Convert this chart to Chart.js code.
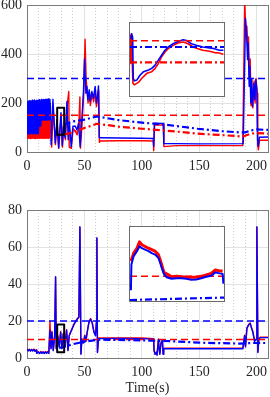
<!DOCTYPE html>
<html>
<head>
<meta charset="utf-8">
<script src="https://cdn.jsdelivr.net/npm/chart.js@4.4.0/dist/chart.umd.min.js"></script>
<style>
  html, body { margin: 0; padding: 0; background: #fff; }
  #wrap { position: relative; width: 270px; height: 397px; overflow: hidden; }
  .box { position: absolute; }
  .inset { position: absolute; background: #fff; border: 1px solid #6b6b6b; box-sizing: border-box; }
</style>
</head>
<body>
<div id="wrap">
  <div class="box" style="left:0;top:0;width:270px;height:175px"><canvas id="topChart"></canvas></div>
  <div class="box" style="left:0;top:180px;width:270px;height:217px"><canvas id="bottomChart"></canvas></div>
  <div class="inset" style="left:129px;top:22px;width:96px;height:75px"><canvas id="topInset"></canvas></div>
  <div class="inset" style="left:129px;top:226px;width:96px;height:76px"><canvas id="bottomInset"></canvas></div>
</div>
<script>
// ---- top plot data ----
const redDenseT = [0,0.5,1,1.5,2,2.5,3,3.5,4,4.5,5,5.5,6,6.5,7,7.5,8,8.5,9,9.5,10,10.5,11,11.5,12,12.5,13,13.5,14,14.5,15,15.5,16,16.5,17,17.5,18,18.5,19,19.5,20];
const redDenseP = [58,68,57,69,58,68,56,70,57,68,58,69,57,68,56,70,58,69,57,68,58,70,57,100,58,98,57,124,58,125,57,123,58,126,57,124,58,125,57,126,60];

const blueTopT = [0,0.5,1,1.5,2,2.5,3,3.5,4,4.5,5,5.5,6,6.5,7,7.5,8,8.5,9,9.5,10,10.5,11,11.5,12,12.5,13,13.5,14,14.5,15,15.5,16,16.5,17,17.5,18,18.5,19,19.5,
  20,20.3,21.1,22.6,24.6,26.1,27.5,29.6,30.7,31.8,33.3,34.8,35.9,37.0,38.5,40.0,42.0,43.5,44.9,46.3,47.8,49.2,50.1,51.3,52.2,53.0,54.2,55.0,56.5,57.9,59.4,60.3,61.4,62.3,62.9,
  64,80,100,110,110.4,111,118.8,119.2,130,150,188.4,190.4,191.3,192.2,192.7,193.6,194.2,195.0,195.6,196.5,197.7,198.5,199.4,200.3,200.9,201.4,202.5,210];
const blueTopP = [70,205,72,208,70,210,73,207,71,211,70,209,72,212,71,208,70,211,73,210,71,213,70,209,72,214,71,212,70,215,72,213,71,216,70,214,72,217,71,215,
  74,200,30,215,37,132,17,160,27,104,58,206,50,118,22,104,106,90,118,22,132,247,380,240,268,213,254,206,247,220,268,200,227,270,60,
  58,57,56,55,23,118,117,34,34,33,34,545,487,377,446,268,349,200,295,186,281,213,295,254,50,23,60,61];

const redTopT = [20,20.5,21.5,22.8,24.8,26.3,27.7,29.8,30.9,32.0,33.5,35.0,36.4,36.8,38.6,40.2,42.2,43.7,45.1,46.1,46.6,48.0,49.4,50.6,51.5,52.4,53.2,54.4,55.2,56.7,58.1,59.6,60.5,61.6,62.5,63.1,
  64,80,100,110,110.4,111.2,118.8,119.3,130,150,188,189.7,190.8,191.6,192.4,193,193.8,194.5,195.2,195.9,196.8,197.9,198.8,199.6,200.6,201.1,201.6,202.7,210];
const redTopP = [60,130,20,180,30,120,15,150,20,95,50,190,247,20,15,95,85,70,105,225,15,120,240,460,300,250,200,245,190,235,205,255,185,215,250,40,
  45,46,46,45,5,110,110,22,26,26,26,620,470,513,420,470,300,380,190,300,180,290,200,300,240,30,9,48,48];

const limitT = [0, 210];
const redLimitTop = [150, 150];
const blueLimitTop = [300, 300];

const blueAvgTopT = [32,40,45,50,55,61,70,80,100,121.7,148.6,170,185.5,190,195,200,210];
const blueAvgTopP = [112,125,128,132,138,145,138,130,120,111,95,85,80,80,88,92,90];
const redAvgTopT = [33,40,50,61,70,80,100,121.7,148.6,170,185.5,190,195,200,210];
const redAvgTopP = [72,80,98,115,110,103,95,87,75,69,64,66,75,77,75];

const zoomBoxT = [26.3, 32.4, 32.4, 26.3, 26.3];
const zoomBoxTopP = [70.6, 70.6, 181, 181, 70.6];

// top inset (zoom of the black box)
const insetBlueTopT = [26.36,26.41,26.47,26.51,26.58,26.75,26.96,27.18,27.50,27.71,27.93,28.14,28.35,28.57,28.78,29.10,29.42,29.75,29.96,30.28,30.60,31.03,31.46,31.78,32.10,32.36];
const insetBlueTopP = [153,160.5,155.5,93,89,90.5,98,103,105.5,108,113,120.5,128,135.5,140.5,145.5,149,151.5,150.5,145.5,143,140.5,139,138,135.5,135.5];
const insetRedTopT = [26.32,26.34,26.39,26.49,26.58,26.86,27.07,27.39,27.71,27.93,28.14,28.35,28.57,28.78,29.10,29.42,29.75,30.07,30.39,30.71,31.03,31.46,31.78,32.10,32.36];
const insetRedTopP = [115.5,158,160.5,85.5,83,87,93,100.5,103,108,115.5,125.5,133,138,143,146.5,148,145.5,140.5,138,135.5,134,132,131.5,129];
const insetT = [26.3, 32.4];
const insetRedLimitTop = [150, 150];
const insetBlueAvgTop = [140.5, 140.5];
const insetRedAvgTop = [117, 117];

// ---- bottom plot data ----
const botT = [0,1,2,3,4,5,6,7,8,8.5,10,11,12,13,14,15,16,17,18,19,20,20.9,21.7,22.9,24.1,24.9,25.5,26.7,28.1,29.3,30.4,31.6,33.0,34.5,35.7,36.8,38.8,40.9,43.2,45.2,46.1,47.0,47.8,49.0,50.4,51.3,52.5,53.9,55.4,56.8,58.3,59.7,60.6,60.9,61.4,62.3,
  80,100,110.4,110.7,111.6,112.8,113.3,114.5,115.1,115.7,116.8,118.0,118.6,119.1,130,160,188.1,189.6,190.4,191.6,193.3,194.5,195.7,196.8,198.3,199.7,200.3,201.2,202.0,203.2,210];
const blueBotP = [4.8,3.8,4.6,3.7,4.5,3.8,4.6,3.6,4.2,2.5,3.2,2.4,3.3,2.5,3.2,2.4,3.3,2.5,3.3,2.5,15,5,14,4,12,44,5,12,6,14,5,13,6,15,4,12,15,18,20.5,22,71,2,10,8,12,9,14,19,21,19,14,12,20,65,3,10.5,
  10.6,10.5,10.2,4,2,3,1.5,10,5,2,8,9.5,2,5,5,5,5,12,6,16,18,18.6,16,14,9,10,71,3,10,11,11];
const redBotP = [5.0,4.0,4.8,3.9,4.7,4.0,4.8,3.8,4.4,2.7,3.4,2.6,3.5,2.7,3.4,2.6,3.5,2.7,3.5,2.7,20,5.3,14.3,4.3,12.3,43.5,5.3,12.3,6.3,14.3,5.3,13.3,6.3,15.3,4.3,12.3,15.3,18.3,20.8,22.3,70.5,2.3,10.3,8.3,12.3,9.3,14.3,19.3,21.3,19.3,14.3,12.3,20.3,64.5,3.3,10.8,
  10.9,10.8,10.5,4.3,2.3,3.3,1.8,10.3,5.3,2.3,8.3,9.8,2.3,5.3,5.3,5.3,5.3,12.3,6.3,16.3,18.3,18.9,16.3,14.3,9.3,10.3,70.5,3.3,10.3,11.3,11.3];

const redLimitBot = [10, 10];
const blueLimitBot = [20, 20];
const blueAvgBotT = [28,35,40,49,55,63.5,80,100,121,150,170,185,195,200,210];
const blueAvgBotP = [5.5,6.5,7.5,8.7,9.3,9.9,9.8,9.5,9.2,8.3,8.0,7.8,8.1,8.1,8.1];
const zoomBoxBotP = [3.1, 3.1, 18.1, 18.1, 3.1];

// bottom inset
const insetBlueBotT = [26.36,26.39,26.54,26.75,26.92,27.07,27.28,27.50,27.71,27.93,28.14,28.25,28.35,28.50,28.68,29.00,29.32,29.64,29.96,30.28,30.60,30.92,31.25,31.57,31.84,32.10,32.31,32.36];
const insetBlueBotP = [7.2,12.4,14.1,15.1,16.1,15.7,15.4,15.1,14.7,14.4,13.75,12.8,11.8,10.5,9.8,9.5,9.6,9.6,9.5,9.3,9.35,9.6,9.9,10.1,10.8,10.6,10.5,8.5];
const insetRedBotT = [26.36,26.54,26.75,26.92,27.07,27.28,27.50,27.71,27.93,28.14,28.25,28.35,28.50,28.68,29.00,29.32,29.64,29.96,30.28,30.60,30.92,31.25,31.57,31.84,32.10,32.31];
const insetRedBotP = [13.1,14.7,15.7,17.0,16.4,16.05,15.7,15.4,15.1,14.4,13.4,12.4,10.8,10.5,9.9,10.0,9.9,9.8,9.8,9.8,10.0,10.3,10.6,11.3,11.1,11.1];
const insetRedLimitBot = [10, 10];
const insetBlueAvgBot = [5.2, 5.7];

// ---- styles ----
const RED = '#ff0000';
const BLUE = '#0000ff';
const AXIS = '#7a7a7a';
const TEXT = '#262626';
const FONT = { family: 'Liberation Serif', size: 14 };
const DASH = [7, 4];
const DASHDOT = [7, 3, 2, 3];

function pts(t, p) {
    return t.map((x, i) => ({ x: x, y: p[i] }));
}

function line(t, p, color, width, dash, order) {
    return {
        data: pts(t, p),
        borderColor: color,
        borderWidth: width,
        borderDash: dash || [],
        borderJoinStyle: 'round',
        pointRadius: 0,
        tension: 0,
        fill: false,
        order: order
    };
}

function mainOptions(ymax, ystep, padTop, xHeight, xTitle) {
    return {
        responsive: true,
        maintainAspectRatio: false,
        animation: false,
        events: [],
        layout: { padding: { top: padTop, right: 2, left: 0, bottom: 0 } },
        plugins: { legend: { display: false }, tooltip: { enabled: false } },
        scales: {
            x: {
                type: 'linear', min: 0, max: 210,
                ticks: {
                    stepSize: 10, autoSkip: false, maxRotation: 0, padding: 6,
                    color: TEXT, font: FONT,
                    callback: v => (v % 50 === 0 ? v : '')
                },
                grid: {
                    drawTicks: false,
                    color: ctx => (ctx.tick && ctx.tick.value % 50 === 0 ? '#e2e2e2' : '#cfcfcf')
                },
                border: {
                    color: AXIS,
                    dash: ctx => (ctx.tick && ctx.tick.value % 50 !== 0 ? [1, 2] : [])
                },
                title: {
                    display: !!xTitle, text: xTitle || '', color: TEXT, font: FONT,
                    padding: { top: 0, bottom: 0 }
                },
                afterFit: s => { s.height = xHeight; s.paddingLeft = 0; s.paddingRight = 0; }
            },
            y: {
                type: 'linear', min: 0, max: ymax,
                ticks: { stepSize: ystep, padding: 5, color: TEXT, font: FONT },
                grid: { drawTicks: false, color: '#e2e2e2' },
                border: { color: AXIS },
                afterFit: s => { s.width = 27; s.paddingTop = 0; s.paddingBottom = 0; }
            },
            x2: {
                type: 'linear', position: 'top', min: 0, max: 210,
                ticks: { display: false }, grid: { display: false, drawTicks: false },
                border: { color: AXIS },
                afterFit: s => { s.height = 0; }
            },
            y2: {
                type: 'linear', position: 'right', min: 0, max: ymax,
                ticks: { display: false }, grid: { display: false, drawTicks: false },
                border: { color: AXIS },
                afterFit: s => { s.width = 0; }
            }
        }
    };
}

function insetOptions(ymin, ymax) {
    return {
        responsive: true,
        maintainAspectRatio: false,
        animation: false,
        events: [],
        layout: { padding: 0 },
        plugins: { legend: { display: false }, tooltip: { enabled: false } },
        scales: {
            x: { type: 'linear', display: false, min: 26.3, max: 32.4 },
            y: { type: 'linear', display: false, min: ymin, max: ymax }
        }
    };
}

// Top plot
new Chart(document.getElementById('topChart'), {
    type: 'line',
    data: {
        datasets: [
            line(zoomBoxT, zoomBoxTopP, '#000000', 2, [], 0),
            line(blueAvgTopT, blueAvgTopP, BLUE, 2.2, DASHDOT, 1),
            line(redAvgTopT, redAvgTopP, RED, 2.2, DASHDOT, 1),
            line(limitT, blueLimitTop, BLUE, 1.5, DASH, 2),
            line(limitT, redLimitTop, RED, 1.5, DASH, 2),
            line(redDenseT, redDenseP, RED, 1.8, [], 3),
            line(blueTopT, blueTopP, BLUE, 1.4, [], 4),
            line(redTopT, redTopP, RED, 1.4, [], 5)
        ]
    },
    options: mainOptions(600, 200, 5, 23, '')
});

// Bottom plot
new Chart(document.getElementById('bottomChart'), {
    type: 'line',
    data: {
        datasets: [
            line(zoomBoxT, zoomBoxBotP, '#000000', 2, [], 0),
            line(blueAvgBotT, blueAvgBotP, BLUE, 2.2, DASHDOT, 1),
            line(limitT, blueLimitBot, BLUE, 1.5, DASH, 2),
            line(limitT, redLimitBot, RED, 1.5, DASH, 2),
            line(botT, blueBotP, BLUE, 1.4, [], 4),
            line(botT, redBotP, RED, 1.4, [], 5)
        ]
    },
    options: mainOptions(80, 20, 30, 39, 'Time(s)')
});

// Top inset
new Chart(document.getElementById('topInset'), {
    type: 'line',
    data: {
        datasets: [
            line(insetT, insetRedLimitTop, RED, 1.5, DASH, 1),
            line(insetT, insetBlueAvgTop, BLUE, 2.2, DASHDOT, 1),
            line(insetT, insetRedAvgTop, RED, 2.2, DASHDOT, 1),
            line(insetBlueTopT, insetBlueTopP, BLUE, 1.6, [], 2),
            line(insetRedTopT, insetRedTopP, RED, 1.6, [], 3)
        ]
    },
    options: insetOptions(66, 177)
});

// Bottom inset
new Chart(document.getElementById('bottomInset'), {
    type: 'line',
    data: {
        datasets: [
            line(insetT, insetBlueAvgBot, BLUE, 2.2, DASHDOT, 1),
            line(insetBlueBotT, insetBlueBotP, BLUE, 2, [], 2),
            line(insetT, insetRedLimitBot, RED, 1.5, DASH, 3),
            line(insetRedBotT, insetRedBotP, RED, 3, [], 4)
        ]
    },
    options: insetOptions(5, 20)
});
</script>
</body>
</html>
